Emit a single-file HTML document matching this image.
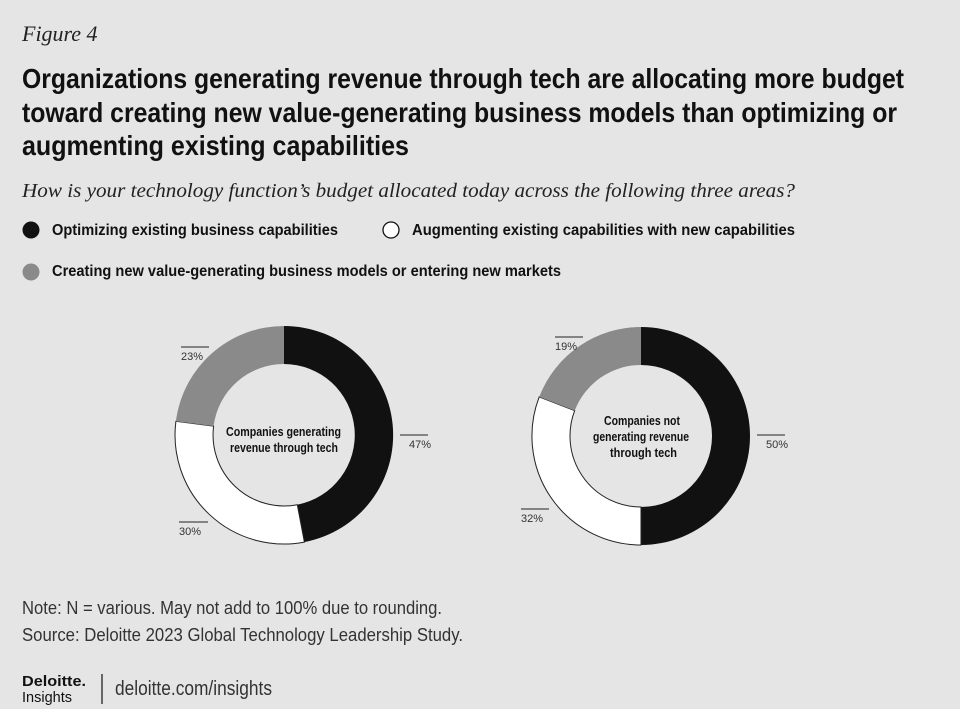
<!DOCTYPE html>
<html><head><meta charset="utf-8"><style>
html,body{margin:0;padding:0;background:#e5e5e5;}
svg{display:block}
.t{font-family:"Liberation Sans Narrow","Liberation Sans",sans-serif;font-weight:bold;fill:#111}
.s{font-family:"Liberation Serif",serif;font-style:italic;fill:#222}
.n{font-family:"Liberation Sans Narrow","Liberation Sans",sans-serif;fill:#333}
</style></head><body>
<svg width="960" height="709" viewBox="0 0 960 709" xmlns="http://www.w3.org/2000/svg">
<rect width="960" height="709" fill="#e5e5e5"/>
<text class="s" x="22" y="41" font-size="22">Figure 4</text>
<text class="t" x="22" y="88" font-size="28" textLength="882" lengthAdjust="spacingAndGlyphs">Organizations generating revenue through tech are allocating more budget</text>
<text class="t" x="22" y="122" font-size="28" textLength="875" lengthAdjust="spacingAndGlyphs">toward creating new value-generating business models than optimizing or</text>
<text class="t" x="22" y="155" font-size="28" textLength="387" lengthAdjust="spacingAndGlyphs">augmenting existing capabilities</text>
<text class="s" x="22" y="197" font-size="20" textLength="773" lengthAdjust="spacingAndGlyphs">How is your technology function’s budget allocated today across the following three areas?</text>

<circle cx="31" cy="230" r="8.5" fill="#111"/>
<text class="t" x="52" y="235" font-size="16" textLength="286" lengthAdjust="spacingAndGlyphs">Optimizing existing business capabilities</text>
<circle cx="391" cy="230" r="8" fill="#fff" stroke="#111" stroke-width="1.3"/>
<text class="t" x="412" y="235" font-size="16" textLength="383" lengthAdjust="spacingAndGlyphs">Augmenting existing capabilities with new capabilities</text>
<circle cx="31" cy="272" r="8.5" fill="#8a8a8a"/>
<text class="t" x="52" y="276" font-size="16" textLength="509" lengthAdjust="spacingAndGlyphs">Creating new value-generating business models or entering new markets</text>

<!-- Chart 1 -->
<path d="M284,326 A109,109 0 0 1 304.4,542.1 L297.3,504.7 A71,71 0 0 0 284,364 Z" fill="#111"/>
<path d="M304.4,542.1 A109,109 0 0 1 175.9,421.3 L213.6,426.1 A71,71 0 0 0 297.3,504.7 Z" fill="#fff" stroke="#222" stroke-width="1"/>
<path d="M175.9,421.3 A109,109 0 0 1 284,326 L284,364 A71,71 0 0 0 213.6,426.1 Z" fill="#8a8a8a"/>
<text class="t" x="226" y="436" font-size="13" textLength="115" lengthAdjust="spacingAndGlyphs">Companies generating</text>
<text class="t" x="230" y="452" font-size="13" textLength="108" lengthAdjust="spacingAndGlyphs">revenue through tech</text>
<line x1="181" y1="347" x2="209" y2="347" stroke="#222"/>
<text class="n" x="181" y="360" font-size="11">23%</text>
<line x1="400" y1="435" x2="428" y2="435" stroke="#222"/>
<text class="n" x="409" y="448" font-size="11">47%</text>
<line x1="179" y1="522" x2="208" y2="522" stroke="#222"/>
<text class="n" x="179" y="535" font-size="11">30%</text>

<!-- Chart 2 -->
<path d="M641,327 A109,109 0 0 1 641,545 L641,507 A71,71 0 0 0 641,365 Z" fill="#111"/>
<path d="M641,545 A109,109 0 0 1 539.2,396.9 L574.7,410.6 A71,71 0 0 0 641,507 Z" fill="#fff" stroke="#222" stroke-width="1"/>
<path d="M539.2,396.9 A109,109 0 0 1 641,327 L641,365 A71,71 0 0 0 574.7,410.6 Z" fill="#8a8a8a"/>
<text class="t" x="604" y="425" font-size="13" textLength="76" lengthAdjust="spacingAndGlyphs">Companies not</text>
<text class="t" x="593" y="441" font-size="13" textLength="96" lengthAdjust="spacingAndGlyphs">generating revenue</text>
<text class="t" x="610" y="457" font-size="13" textLength="67" lengthAdjust="spacingAndGlyphs">through tech</text>
<line x1="555" y1="337" x2="583" y2="337" stroke="#222"/>
<text class="n" x="555" y="350" font-size="11">19%</text>
<line x1="757" y1="435" x2="785" y2="435" stroke="#222"/>
<text class="n" x="766" y="448" font-size="11">50%</text>
<line x1="521" y1="509" x2="549" y2="509" stroke="#222"/>
<text class="n" x="521" y="522" font-size="11">32%</text>

<text class="n" x="22" y="614" font-size="18" textLength="420" lengthAdjust="spacingAndGlyphs">Note: N = various. May not add to 100% due to rounding.</text>
<text class="n" x="22" y="641" font-size="18" textLength="441" lengthAdjust="spacingAndGlyphs">Source: Deloitte 2023 Global Technology Leadership Study.</text>

<text x="22" y="686" font-family="Liberation Sans, sans-serif" font-weight="bold" font-size="15" fill="#111" textLength="64" lengthAdjust="spacingAndGlyphs">Deloitte.</text>
<text x="22" y="702" font-family="Liberation Sans, sans-serif" font-size="15" fill="#111" textLength="50" lengthAdjust="spacingAndGlyphs">Insights</text>
<line x1="102" y1="674" x2="102" y2="704" stroke="#222" stroke-width="1.3"/>
<text class="n" x="115" y="695" font-size="20" textLength="157" lengthAdjust="spacingAndGlyphs">deloitte.com/insights</text>
</svg>
</body></html>
